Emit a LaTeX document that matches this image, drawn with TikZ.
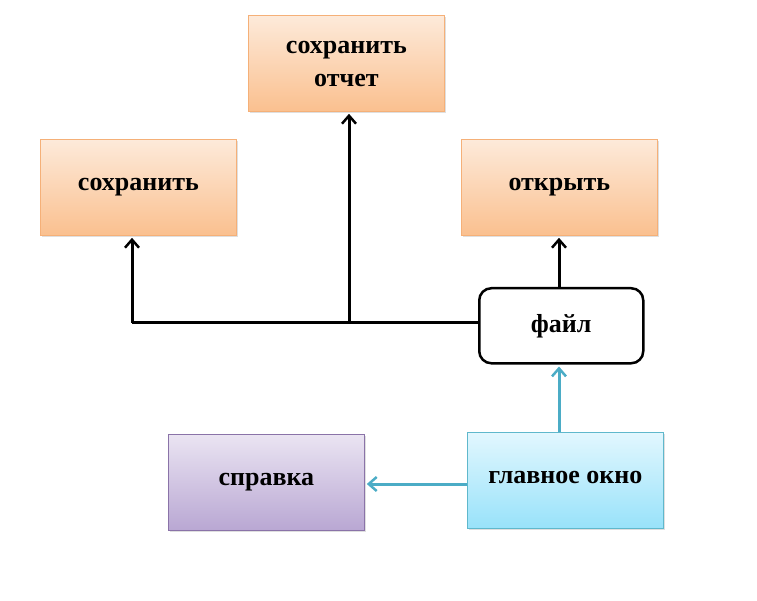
\documentclass[tikz,border=0pt]{standalone}
\usepackage{fontspec}
\setmainfont{Liberation Serif}
\usetikzlibrary{arrows.meta,shadows}
\definecolor{orTop}{HTML}{FDEADA}
\definecolor{orBot}{HTML}{FAC08F}
\definecolor{orLine}{HTML}{F5B078}
\definecolor{puTop}{HTML}{EAE4F2}
\definecolor{puBot}{HTML}{B9A7D3}
\definecolor{puLine}{HTML}{8A73A8}
\definecolor{blTop}{HTML}{E2F7FE}
\definecolor{blBot}{HTML}{98E2FA}
\definecolor{blLine}{HTML}{5FB8CC}
\definecolor{teal}{HTML}{4BACC6}
\newcommand{\up}[1]{\raisebox{7pt}{#1}}
\begin{document}
\begin{tikzpicture}[x=1pt,y=-1pt,
  box/.style={minimum width=196pt,minimum height=96pt,anchor=north west,
    font=\bfseries\fontsize{26}{33}\selectfont,align=center,inner sep=2pt,
    drop shadow={shadow xshift=1.5pt,shadow yshift=-1.5pt,opacity=0.25}},
  orbox/.style={box,draw=orLine,line width=0.8pt,top color=orTop,bottom color=orBot},
  pubox/.style={box,draw=puLine,line width=0.8pt,top color=puTop,bottom color=puBot},
  blbox/.style={box,draw=blLine,line width=0.8pt,top color=blTop,bottom color=blBot},
  filebox/.style={draw=black,line width=2.5pt,rounded corners=12pt,fill=white,
    minimum width=164pt,minimum height=75pt,anchor=north west,
    font=\bfseries\fontsize{26}{30}\selectfont},
  blk/.style={line width=3pt,-{Straight Barb[length=8pt,width=14pt,line width=2.5pt]}},
  tl/.style={teal,line width=3pt,-{Straight Barb[length=8pt,width=14pt,line width=2.5pt]}}]
\useasboundingbox (0,0) rectangle (757,601);
\node[orbox] (otch) at (248,15) {\up{\begin{tabular}{@{}c@{}}сохранить\\отчет\end{tabular}}};
\node[orbox] (sav) at (40,139) {\up{сохранить}};
\node[orbox] (open) at (461,139) {\up{открыть}};
\node[filebox] (file) at (478,287) {\raisebox{4pt}{файл}};
\node[pubox] (help) at (168,434) {\up{справка}};
\node[blbox] (main) at (467,432) {\up{главное окно}};
\coordinate (c1) at (132,323);
\coordinate (c2) at (349,323);
\coordinate (c3) at (559,0);
\draw[line width=3pt] (file.west |- c1) -- (c1);
\draw[blk] (c1) -- ([yshift=-2pt]c1 |- sav.south);
\draw[blk] (c2) -- ([yshift=-2pt]c2 |- otch.south);
\draw[blk] (file.north -| c3) -- ([yshift=-2pt]c3 |- open.south);
\draw[tl] (main.north -| c3) -- ([yshift=-2pt]c3 |- file.south);
\coordinate (c4) at (0,484);
\draw[tl] (main.west |- c4) -- ([xshift=2pt]help.east |- c4);
\end{tikzpicture}
\end{document}
